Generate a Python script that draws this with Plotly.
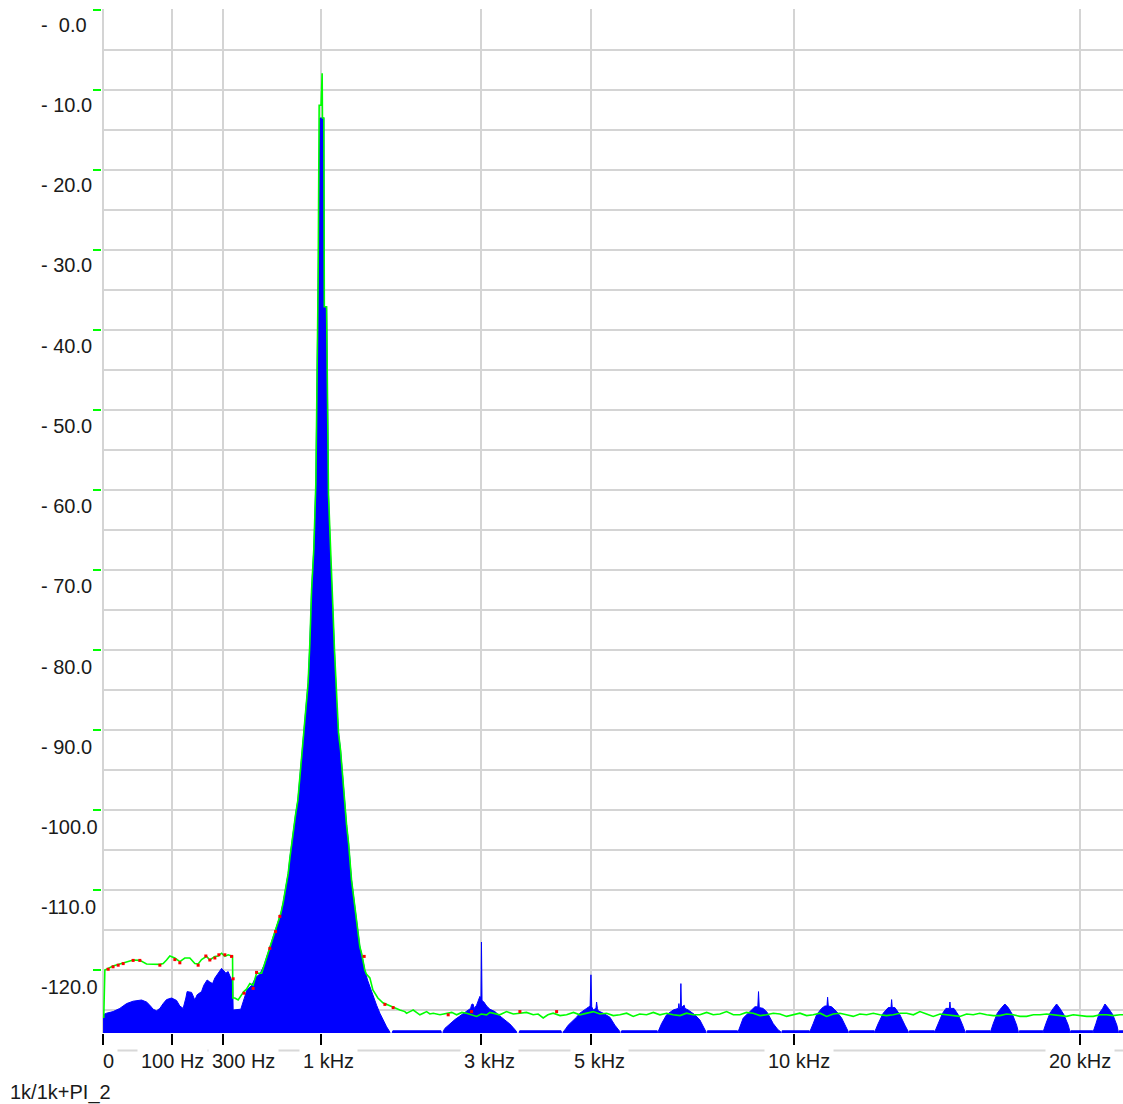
import numpy as np
import plotly.graph_objects as go

# ---------------- data (Hz, dB) ----------------
xtick_freqs = [0, 100, 300, 1000, 3000, 5000, 10000, 20000]
xtick_text = ["0", "100 Hz", "300 Hz", "1 kHz", "3 kHz", "5 kHz", "10 kHz", "20 kHz"]

ytick_vals = [0, -10, -20, -30, -40, -50, -60, -70, -80, -90, -100, -110, -120]
ytick_text = ["-  0.0", "- 10.0", "- 20.0", "- 30.0", "- 40.0", "- 50.0", "- 60.0",
              "- 70.0", "- 80.0", "- 90.0", "-100.0", "-110.0", "-120.0"]

footer_text = "1k/1k+PI_2"

# blue spectrum, low-frequency region
low_blue_f = [0, 0.26, 2.1, 5.9, 11.6, 19.0, 31.1, 39.7, 45.9, 52.6, 60.0, 67.7, 75.8, 84.6,
              98.4, 113.3, 123.7, 134.6, 143.8, 148.3, 164.3, 176.7, 185.7, 203.5, 213.1,
              227.3, 239.2, 251.5, 262.2, 277.9, 294.5, 302.5, 316.3, 328.2, 346.3, 352.3,
              355, 398, 410, 434, 464, 490, 516]
low_blue_db = [-125.6, -125.4, -125.2, -124.8, -124.2, -123.9, -123.75, -124.0, -124.4, -124.9,
               -125.1, -124.8, -124.2, -123.7, -123.5, -123.8, -124.5, -124.8, -123.5, -122.7,
               -122.8, -123.75, -123.1, -122.7, -121.9, -121.25, -121.5, -121.7, -121.0, -120.4,
               -119.8, -120.0, -120.4, -120.2, -121.25, -121.25, -125.0, -124.9, -124.0, -122.5,
               -121.9, -120.9, -120.5]

# green trace, low-frequency region
low_green_f = [0.01, 0.07, 0.26, 2.1, 5.9, 11.6, 19.0, 28.4, 39.7, 67.7, 75.8, 84.6, 93.6, 108.1,
               123.7, 140.3, 158.0, 176.7, 189.7, 203.5, 224.7, 239.2, 262.2, 277.9, 294.5, 311.2,
               328.2, 346.3, 351.7, 353.4, 364.3, 382.8, 402.3, 415.8, 431.9, 452, 472.5, 494.2,
               527]
low_green_db = [-126.0, -120.0, -119.9, -119.5, -119.25, -118.95, -118.75, -118.8, -119.25, -119.3,
                -119.2, -118.75, -118.25, -118.5, -118.95, -118.5, -118.5, -119.2, -119.25, -118.7,
                -118.3, -118.75, -118.3, -118.25, -117.9, -118.3, -118.1, -118.25, -118.25, -123.5,
                -123.5, -123.75, -123.1, -122.7, -122.4, -121.7, -121.9, -120.4, -120.4]

# 1 kHz fundamental: flanks shared by both traces
peak_left_f = [544, 561, 584, 607, 624, 643, 663, 680, 693, 706, 719, 732, 748, 764, 777, 796,
               812, 829, 846, 863, 882, 897, 912, 932, 950, 970]
peak_left_db = [-119.4, -118.4, -117.1, -116.0, -115.0, -113.75, -112.9, -111.6, -110.25, -109.1,
                -107.9, -106.0, -104.0, -101.9, -100.6, -98.75, -95.9, -93.1, -91.0, -88.1,
                -84.1, -79.1, -72.5, -67.25, -59.0, -34.1]
blue_top_f = [986, 1022]
blue_top_db = [-13.5, -13.5]
green_top_f = [979.5, 997, 1000.4, 1006.8, 1009.6, 1022]
green_top_db = [-11.9, -11.9, -7.9, -7.9, -13.5, -13.5]
peak_right_f = [1027, 1048, 1066, 1086, 1105, 1124, 1144, 1163, 1183, 1203, 1223, 1244, 1264,
                1277, 1295, 1312, 1330, 1348, 1365, 1383, 1401, 1419, 1437]
peak_right_db = [-37.1, -37.1, -60.6, -68.5, -73.75, -80.25, -86.6, -90.4, -92.5, -96.0, -99.6,
                 -101.9, -104.1, -106.6, -108.75, -110.4, -112.1, -114.1, -115.9, -117.1, -117.9,
                 -119.1, -120.0]

blue_tail_f = [1467, 1493, 1530, 1569, 1607, 1645, 1686, 1725]
blue_tail_db = [-121.25, -122.1, -123.4, -124.4, -125.4, -126.25, -127.1, -127.75]

# blue: floor and odd-harmonic humps
blue_hf_f = [
    1731, 1761, 2395, 2410,
    2426, 2450, 2498, 2547, 2596, 2670, 2771, 2833, 2850, 2870, 2890, 2926, 2978, 2995, 3003,
    3012, 3041, 3085, 3138, 3220, 3302, 3386, 3471, 3527, 3586, 3600,
    3640, 4400, 4420,
    4440, 4473, 4537, 4604, 4702, 4768, 4848, 4903, 4975, 4992, 5008, 5038, 5095, 5108, 5125,
    5141, 5246, 5387, 5494, 5565, 5602, 5615,
    5640, 6440, 6455,
    6463, 6542, 6660, 6817, 6940, 6954, 6968, 6990, 7002, 7015, 7082, 7100, 7180, 7346, 7470,
    7571, 7621, 7635,
    7660, 8440, 8450,
    8460, 8594, 8774, 8911, 8990, 9010, 9030, 9139, 9250, 9418, 9559, 9627, 9640,
    9670, 10460, 10470,
    10478, 10576, 10677, 10827, 10927, 10990, 11009, 11030, 11131, 11284, 11439, 11572, 11644,
    11655,
    11690, 12470, 12480,
    12493, 12600, 12764, 12928, 13020, 13040, 13060, 13149, 13316, 13484, 13595, 13610,
    13640, 14490, 14500,
    14511, 14627, 14782, 14898, 15020, 15040, 15060, 15183, 15337, 15495, 15577, 15590,
    15620, 16500, 16510,
    16520, 16618, 16768, 16931, 17056, 17182, 17350, 17503, 17564, 17580,
    17610, 18520, 18530,
    18537, 18643, 18802, 18934, 19068, 19201, 19362, 19536, 19604, 19615,
    19640, 20540, 20550,
    20560, 20673, 20811, 20953, 21051, 21200, 21384, 21554, 21612, 21625,
    21650, 22050]
blue_hf_db = [
    -128.6, -127.6, -127.6, -128.6,
    -127.7, -127.3, -126.9, -126.6, -126.2, -125.75, -125.2, -124.8, -124.3, -124.25, -124.8,
    -124.4, -123.3, -123.5, -116.5, -123.8, -124.0, -124.5, -124.9, -125.2, -125.75, -126.2,
    -126.75, -127.2, -127.7, -128.6,
    -127.6, -127.6, -128.6,
    -127.7, -127.5, -126.9, -126.5, -125.9, -125.4, -125.0, -124.8, -124.5, -120.6, -124.6,
    -125.0, -124.8, -124.0, -124.8, -125.1, -125.4, -125.9, -126.9, -127.5, -127.7, -128.6,
    -127.6, -127.6, -128.6,
    -127.7, -126.7, -125.6, -125.0, -124.8, -124.2, -124.8, -124.7, -121.7, -124.7, -124.4,
    -124.8, -125.0, -125.6, -126.25, -127.1, -127.7, -128.6,
    -127.6, -127.6, -128.6,
    -127.7, -126.0, -125.2, -124.6, -124.6, -122.7, -124.7, -124.8, -125.3, -126.7, -127.5,
    -127.7, -128.6,
    -127.6, -127.6, -128.6,
    -127.7, -126.7, -125.6, -124.8, -124.5, -124.5, -123.4, -124.5, -124.6, -125.2, -126.0,
    -127.1, -127.7, -128.6,
    -127.6, -127.6, -128.6,
    -127.7, -126.7, -125.4, -124.7, -124.7, -123.7, -124.7, -124.7, -125.6, -126.9, -127.7,
    -128.6,
    -127.6, -127.6, -128.6,
    -127.7, -126.7, -125.4, -124.8, -124.8, -124.0, -124.8, -124.8, -125.6, -126.9, -127.7,
    -128.6,
    -127.6, -127.6, -128.6,
    -127.7, -126.7, -125.4, -124.7, -124.25, -124.7, -125.6, -126.9, -127.7, -128.6,
    -127.6, -127.6, -128.6,
    -127.7, -126.7, -125.4, -124.8, -124.25, -124.8, -125.6, -126.9, -127.7, -128.6,
    -127.6, -127.6, -128.6,
    -127.7, -126.7, -125.4, -124.8, -124.25, -124.8, -125.6, -126.9, -127.7, -128.6,
    -127.6, -127.6]

# green: tail after the fundamental and noise floor
green_tail_f = [1454, 1493, 1527, 1584, 1642, 1725, 1807, 1848, 1910]
green_tail_db = [-120.5, -121.0, -122.5, -123.5, -124.1, -124.5, -124.8, -125.0, -125.2]
green_floor_f = [1932, 1975, 2017, 2060, 2105, 2150, 2195, 2240, 2286, 2380, 2475, 2550, 2621,
                 2700, 2771, 2850, 2926, 3000, 3085, 3140, 3191, 3300, 3415, 3530, 3644, 3760,
                 3880, 3970, 4063, 4150, 4249, 4380, 4506, 4640, 4768, 4900, 5038, 5180, 5317,
                 5460, 5602, 5750, 5894, 6040, 6196, 6350, 6502, 6660, 6817, 6980, 7141, 7300,
                 7470, 7640, 7807, 7980, 8154, 8330, 8505, 8680, 8864, 9050, 9233, 9420, 9607,
                 9799, 9990, 10183, 10380, 10576, 10780, 10979, 11180, 11386, 11590, 11801,
                 12010, 12226, 12440, 12656, 12870, 13093, 13320, 13542, 13770, 13993, 14220,
                 14453, 14690, 14923, 15160, 15397, 15640, 15878, 16120, 16371, 16620, 16868,
                 17120, 17372, 17630, 17887, 18150, 18407, 18670, 18933, 19200, 19471, 19740,
                 20011, 20290, 20561, 20840, 21121, 21400, 21684, 22050]
green_floor_db = [-125.4, -125.2, -125.0, -125.3, -125.6, -125.4, -125.2, -125.5, -125.4, -125.6,
                  -125.4, -125.3, -125.6, -125.3, -125.4, -125.6, -125.8, -125.5, -125.6, -125.3,
                  -125.4, -125.6, -125.2, -125.5, -125.4, -125.3, -125.6, -125.5, -126.0, -125.6,
                  -125.4, -125.7, -125.6, -125.3, -125.6, -125.4, -125.2, -125.5, -125.4, -125.7,
                  -125.6, -125.4, -125.8, -125.5, -125.6, -125.3, -125.6, -125.4, -125.6, -125.7,
                  -125.4, -125.6, -125.6, -125.3, -125.6, -125.5, -125.2, -125.6, -125.6, -125.3,
                  -125.4, -125.7, -125.6, -125.4, -125.5, -125.8, -125.6, -125.4, -125.7, -125.6,
                  -125.4, -125.8, -125.5, -125.4, -125.6, -125.8, -125.5, -125.6, -125.4, -125.6,
                  -125.7, -125.6, -125.4, -125.4, -125.6, -125.2, -125.5, -125.8, -125.5, -125.6,
                  -125.7, -125.8, -125.5, -125.6, -125.4, -125.6, -125.7, -125.7, -125.5, -125.6,
                  -125.8, -125.8, -125.6, -125.6, -125.5, -125.6, -125.7, -125.8, -125.6, -125.7,
                  -125.8, -125.8, -125.6, -125.6, -125.7, -125.6, -125.6]

# red trace (visible only where it peeks out from under the green one)
red_f = [0.55, 2.1, 4.8, 8.5, 19.0, 28.4, 67.7, 108.1, 123.7, 189.7, 221.6, 239.2, 262.2, 281.3,
         311.2, 346.3, 355, 417, 472.5, 494.2, 583.5, 624, 655.6, 1430, 1666, 1765, 2498, 2848,
         3644, 4314]
red_db = [-119.9, -119.6, -119.4, -119.2, -118.8, -118.8, -119.4, -118.7, -119.1, -119.4, -118.25,
          -118.75, -118.5, -118.1, -118.1, -118.3, -121.1, -122.9, -122.3, -120.3, -117.3, -115.2,
          -113.3, -118.3, -124.3, -124.7, -125.6, -125.2, -125.2, -125.2]

# ---------------- style / layout constants ----------------
W, H = 1123, 1104
ML, MR, MT, MB = 102, 0, 9, 71
PW, PH = W - ML - MR, H - MT - MB
GRID = "#d4d4d4"
TXT = "#1a1a1a"
FONT = "Liberation Sans, Arial, sans-serif"
xlabel_shift = [5, 0, 21, 7, 8, 8, 5, 0]


def sx(freqs):
    return np.sqrt(np.asarray(freqs, dtype=float))


def px_to_paper_x(px):
    return (px - ML) / PW


def px_to_paper_y(py):
    return (H - MB - py) / PH


blue_f = low_blue_f + peak_left_f + blue_top_f + peak_right_f + blue_tail_f + blue_hf_f
blue_db = low_blue_db + peak_left_db + blue_top_db + peak_right_db + blue_tail_db + blue_hf_db
green_f = low_green_f + peak_left_f + green_top_f + peak_right_f + green_tail_f + green_floor_f
green_db = low_green_db + peak_left_db + green_top_db + peak_right_db + green_tail_db + green_floor_db
assert len(blue_f) == len(blue_db) and len(green_f) == len(green_db) and len(red_f) == len(red_db)

fig = go.Figure()
# invisible baseline below the visible range for the fill
fig.add_trace(go.Scatter(x=sx([0, 22050]), y=[-140, -140], mode="lines",
                         line=dict(width=0, color="#0000ff"), hoverinfo="skip", showlegend=False))
fig.add_trace(go.Scatter(x=sx(blue_f), y=blue_db, mode="lines",
                         line=dict(color="#0000ff", width=1), fill="tonexty",
                         fillcolor="#0000ff", showlegend=False))
fig.add_trace(go.Scatter(x=sx(green_f), y=green_db, mode="lines",
                         line=dict(color="#00ff00", width=1.6), showlegend=False))
fig.add_trace(go.Scatter(x=sx(red_f), y=red_db, mode="markers",
                         marker=dict(color="#ff0000", size=3, symbol="square", line=dict(width=0)),
                         showlegend=False))

annotations = []
for i, (v, t) in enumerate(zip(ytick_vals, ytick_text)):
    annotations.append(dict(xref="paper", yref="y", x=px_to_paper_x(39), y=v,
                            xanchor="left", yanchor="middle", yshift=-(14.8 + 0.22 * i),
                            text=t.replace(" ", "\u00a0"), showarrow=False,
                            font=dict(family=FONT, size=20, color=TXT)))
for f, t, s in zip(xtick_freqs, xtick_text, xlabel_shift):
    annotations.append(dict(xref="x", yref="paper", x=float(np.sqrt(f)), y=px_to_paper_y(1061),
                            xanchor="center", yanchor="middle", xshift=s, text=t,
                            showarrow=False, bgcolor="white", borderpad=3,
                            font=dict(family=FONT, size=20, color=TXT)))
annotations.append(dict(xref="paper", yref="paper", x=px_to_paper_x(8), y=px_to_paper_y(1092),
                        xanchor="left", yanchor="middle", text=footer_text, showarrow=False,
                        font=dict(family=FONT, size=20, color=TXT)))

fig.update_layout(
    width=W, height=H, autosize=False,
    margin=dict(l=ML, r=MR, t=MT, b=MB, pad=0),
    paper_bgcolor="white", plot_bgcolor="white", showlegend=False,
    annotations=annotations,
    shapes=[dict(type="line", xref="paper", yref="paper",
                 x0=px_to_paper_x(112), x1=1.0,
                 y0=px_to_paper_y(1050.5), y1=px_to_paper_y(1050.5),
                 line=dict(color="#d8d8d8", width=2))],
    xaxis=dict(range=[-0.15, 147.7], tickmode="array", tickvals=sx(xtick_freqs),
               showticklabels=False, ticks="outside", ticklen=11, tickwidth=1.5,
               tickcolor="#000000", showgrid=True, gridcolor=GRID, gridwidth=2,
               zeroline=False, showline=False, fixedrange=True),
    yaxis=dict(range=[-127.875, 0.125], tickmode="array", tickvals=ytick_vals,
               showticklabels=False, ticks="outside", ticklen=8, tickwidth=2,
               tickcolor="#00ff00", showgrid=True, gridcolor=GRID, gridwidth=2,
               zeroline=False, showline=False, fixedrange=True,
               minor=dict(tickmode="array", tickvals=list(range(-5, -130, -10)),
                          showgrid=True, gridcolor=GRID, gridwidth=2, ticks="")),
)

fig.write_html("out.html")
